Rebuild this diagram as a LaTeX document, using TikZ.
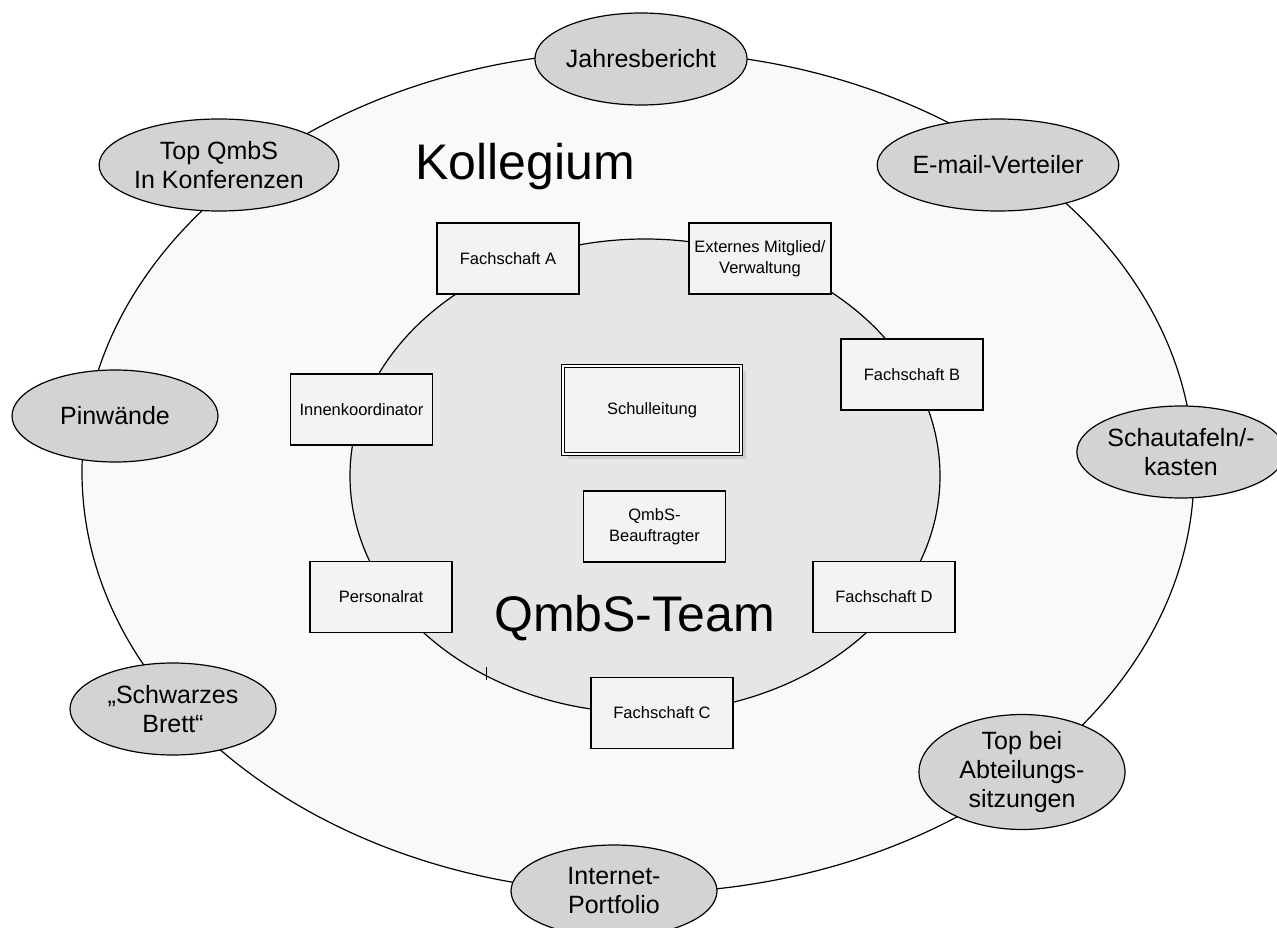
\documentclass[tikz,border=0pt]{standalone}
\usepackage{fontspec}
\setmainfont{Liberation Sans}
\usetikzlibrary{shapes.geometric,shadows}
\definecolor{outerfill}{HTML}{F9F9F9}
\definecolor{innerfill}{HTML}{E6E6E6}
\definecolor{ovalfill}{HTML}{D3D3D3}
\definecolor{boxfill}{HTML}{F3F3F3}
\definecolor{shadowgray}{HTML}{CFCFCF}
\begin{document}
\begin{tikzpicture}[x=1pt,y=-1pt,
  medium/.style={ellipse, draw, line width=1.2pt, fill=ovalfill,
    minimum width=206pt, minimum height=92pt, inner sep=0pt,
    align=center, font=\fontsize{25}{29}\selectfont},
  member/.style={rectangle, draw, line width=1.5pt, fill=boxfill,
    minimum width=142pt, minimum height=71pt, inner sep=0pt,
    align=center, font=\fontsize{16.5}{21}\selectfont},
  headbox/.style={rectangle, draw, double, double distance=2.2pt, line width=1.2pt,
    fill=boxfill, minimum width=178pt, minimum height=88pt, inner sep=0pt,
    font=\fontsize{16.5}{21}\selectfont,
    drop shadow={shadow xshift=5pt, shadow yshift=-5pt, fill=shadowgray, opacity=1}},
  title/.style={anchor=base west, inner sep=0pt, font=\fontsize{50}{60}\selectfont}]
\useasboundingbox (0,0) rectangle (1277,928);
\fill[white] (0,0) rectangle (1277,928);

% circles of the staff and of the team
\draw[line width=1.2pt, fill=outerfill] (638,472) ellipse [x radius=556pt, y radius=421pt];
\draw[line width=1.2pt, fill=innerfill] (645,476) ellipse [x radius=295pt, y radius=237pt];
\draw[line width=0.8pt] (486,667) -- (486,680);

% titles
\node[title] (kollegium) at (415,180) {Kollegium};
\node[title] (team) at (494,631) {QmbS-Team};

% team members
\node[member] (fa) at (508,258.5) {Fachschaft A};
\node[member] (ext) at (760,258.5) {Externes Mitglied/\\Verwaltung};
\node[member] (fb) at (912,374.5) {Fachschaft B};
\node[member] (ik) at (361.5,409.5) {Innenkoordinator};
\node[headbox] (sl) at (652,410) {Schulleitung};
\node[member] (qb) at (654.5,526.5) {QmbS-\\Beauftragter};
\node[member] (pr) at (381,597) {Personalrat};
\node[member] (fd) at (884,597) {Fachschaft D};
\node[member] (fc) at (662,713) {Fachschaft C};

% communication channels
\node[medium] (jb) at (641,59) {Jahresbericht};
\node[medium] (tq) at (219,165) {Top QmbS\\In Konferenzen};
\node[medium] (em) at (998,165) {E-mail-Verteiler};
\node[medium] (pw) at (115,416) {Pinwände};
\node[medium] (st) at (1181,452) {Schautafeln/-\\kasten};
\node[medium] (sb) at (173,709) {„Schwarzes\\Brett“};
\node[medium] (ta) at (1022,772) {Top bei\\Abteilungs-\\sitzungen};
\node[medium] (ip) at (614,891) {Internet-\\Portfolio};
\end{tikzpicture}
\end{document}
